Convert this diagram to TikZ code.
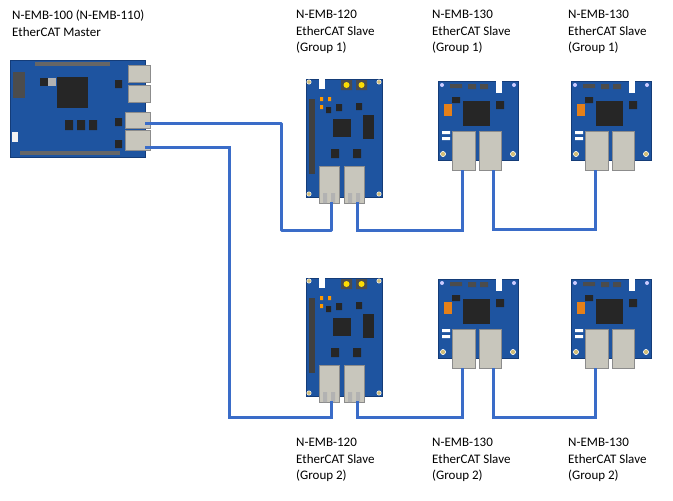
\documentclass[tikz,border=0pt]{standalone}
\usepackage{fontspec}
\setmainfont{Carlito}
\begin{document}
\begin{tikzpicture}[x=1pt,y=-1pt,
  lbl/.style={anchor=north west,align=left,inner sep=0pt,font=\fontsize{13}{16.5}\selectfont},
  wire/.style={draw={rgb,255:red,58;green,108;blue,200},line width=3pt},
  board/.style={fill={rgb,255:red,30;green,84;blue,160},draw={rgb,255:red,20;green,60;blue,120},line width=0.5pt},
  chip/.style={fill=black!85},
  jack/.style={fill={rgb,255:red,200;green,198;blue,188},draw=black!45,line width=0.5pt},
  hole/.style={fill={rgb,255:red,210;green,190;blue,120},draw=white,line width=0.5pt},
  pt/.style={inner sep=0pt,minimum size=0pt}]
\useasboundingbox (0,0) rectangle (673,501);
% ---------- master ----------
\begin{scope}[shift={(10,60)}]
 \draw[board] (0,0) rectangle (135,97);
 \fill[black!70] (3,12) rectangle (15,38);
 \fill[black!60] (25,2) rectangle (100,6);
 \fill[black!60] (10,91) rectangle (110,95);
 \fill[chip] (47,17) rectangle (78,48);
 \fill[chip] (30,18) rectangle (38,26);
 \fill[chip] (55,60) rectangle (63,70) (67,60) rectangle (75,70) (79,60) rectangle (87,70);
 \fill[chip] (105,20) rectangle (112,28) (105,58) rectangle (112,66) (105,80) rectangle (112,88);
 \fill[white!90!gray] (2,72) rectangle (8,82);
 \fill[gray!60] (38,18) rectangle (46,26);
 \draw[jack] (118,5) rectangle (140,22);
 \draw[jack] (118,25) rectangle (140,42);
 \draw[jack] (115,52) rectangle (140,68);
 \draw[jack] (115,70) rectangle (140,90);
 \node[pt] (m1) at (135,63) {};
 \node[pt] (m2) at (135,87) {};
\end{scope}
% ---------- 120 boards ----------
\foreach \n/\yy in {a/79,b/278}{
\begin{scope}[shift={(306,\yy)}]
 \draw[board] (0,0) rectangle (76,118);
 \foreach \cx/\cy in {3/3,73/3,3/115,73/115} \draw[hole] (\cx,\cy) circle (2.2);
 \fill[white] (13,0) rectangle (19,10);
 \fill[black!70] (35,1) rectangle (46,11) (50,1) rectangle (61,11);
 \fill[yellow!80!orange] (40.5,6) circle (3) (55.5,6) circle (3);
 \fill[black!75] (3,20) rectangle (9,95);
 \fill[chip] (27,40) rectangle (45,58);
 \fill[chip] (57,36) rectangle (68,60);
 \fill[chip] (25,70) rectangle (33,79) (47,70) rectangle (55,79);
 \fill[chip] (30,25) rectangle (36,32) (50,24) rectangle (56,31) (20,28) rectangle (25,34);
 \fill[orange!80!yellow] (14,18) rectangle (17,22) (14,26) rectangle (17,30) (22,18) rectangle (25,22);
 \draw[jack] (13,87) rectangle (33,124);
 \draw[jack] (38,87) rectangle (58,124);
 \fill[black!30] (17,114) rectangle (21,124) (25,114) rectangle (29,124);
 \fill[black!30] (42,114) rectangle (46,124) (50,114) rectangle (54,124);
 \node[pt] (s\n1) at (25,123) {};
 \node[pt] (s\n2) at (51,123) {};
\end{scope}}
% ---------- 130 boards ----------
\foreach \n/\xx/\yy in {c/438/81,d/571/81,e/438/279,f/571/279}{
\begin{scope}[shift={(\xx,\yy)}]
 \draw[board] (0,0) rectangle (80,79);
 \foreach \cx/\cy in {4/4,76/4} \fill[white!80!blue] (\cx,\cy) circle (2);
 \foreach \cx/\cy in {5/73,75/73} \draw[hole] (\cx,\cy) circle (2.6);
 \fill[white] (58,0) rectangle (64,12);
 \fill[black!70] (12,3) rectangle (24,7) (30,3) rectangle (38,8) (42,3) rectangle (50,8);
 \fill[chip] (25,20) rectangle (52,45);
 \fill[chip] (14,16) rectangle (22,22) (58,20) rectangle (66,28);
 \fill[orange!60!brown] (6,23) rectangle (14,35);
 \fill[white] (4,50) rectangle (12,53) (4,56) rectangle (12,59);
 \draw[jack] (14,50) rectangle (37,89);
 \draw[jack] (41,50) rectangle (63,89);
 \node[pt] (s\n1) at (24,89) {};
 \node[pt] (s\n2) at (55,89) {};
\end{scope}}
% ---------- wires ----------
\coordinate (k1) at (281,123);
\coordinate (k2) at (229,147);
\draw[wire,line join=round] (m1) -- (k1) -- (281,230) -| (sa1);
\draw[wire] (sa2) -- (357,230) -| (sc1);
\draw[wire] (sc2) -- (493,229) -| (sd1);
\draw[wire] (m2) -- (k2) -- (229,417) -| (sb1);
\draw[wire] (sb2) -- (357,417) -| (se1);
\draw[wire] (se2) -- (493,417) -| (sf1);
% ---------- labels ----------
\node[lbl] (t0) at (12,10) {N-EMB-100 (N-EMB-110)\\EtherCAT Master};
\node[lbl] (t1) at (296,10) {N-EMB-120\\EtherCAT Slave\\(Group 1)};
\node[lbl] (t2) at (432,10) {N-EMB-130\\EtherCAT Slave\\(Group 1)};
\node[lbl] (t3) at (568,10) {N-EMB-130\\EtherCAT Slave\\(Group 1)};
\node[lbl] (t4) at (296,438) {N-EMB-120\\EtherCAT Slave\\(Group 2)};
\node[lbl] (t5) at (432,438) {N-EMB-130\\EtherCAT Slave\\(Group 2)};
\node[lbl] (t6) at (568,438) {N-EMB-130\\EtherCAT Slave\\(Group 2)};
\end{tikzpicture}
\end{document}
